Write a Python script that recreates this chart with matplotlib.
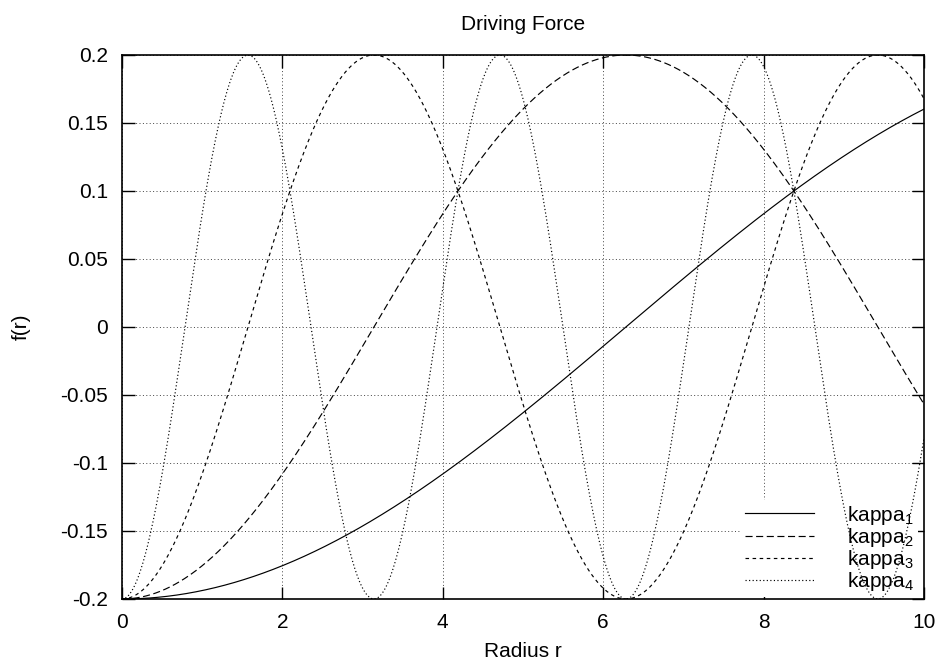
import numpy as np
import matplotlib
matplotlib.use("Agg")
import matplotlib.pyplot as plt

plt.rcParams['font.family'] = ['Liberation Sans', 'DejaVu Sans']
plt.rcParams['mathtext.fontset'] = 'custom'
plt.rcParams['mathtext.rm'] = 'Liberation Sans'
plt.rcParams['mathtext.it'] = 'Liberation Sans'
plt.rcParams['mathtext.default'] = 'regular'

# Driving force f(r) = -A cos(kappa r) for several wave numbers
amplitude = 0.2
kappas = [0.25, 0.5, 1.0, 2.0]
labels = ['kappa$_1$', 'kappa$_2$', 'kappa$_3$', 'kappa$_4$']
styles = ['-', (0, (6, 3)), (0, (3, 3)), (0, (1, 2))]
x_ticks = [0, 2, 4, 6, 8, 10]
y_ticks = [-0.2, -0.15, -0.1, -0.05, 0, 0.05, 0.1, 0.15, 0.2]
y_tick_labels = ['-0.2', '-0.15', '-0.1', '-0.05', '0', '0.05', '0.1', '0.15', '0.2']

r = np.linspace(0, 10, 1000)

fig = plt.figure(figsize=(9.42, 6.65), dpi=100)
ax = fig.add_axes([122 / 942, 1 - 599 / 665, (924 - 122) / 942, (599 - 55) / 665])

for k, lab, ls in zip(kappas, labels, styles):
    ax.plot(r, -amplitude * np.cos(k * r), color='black', lw=0.85, ls=ls,
            label=lab, zorder=3)

ax.set_xlim(0, 10)
ax.set_ylim(-0.2, 0.2)
ax.set_xticks(x_ticks)
ax.set_xticklabels([str(t) for t in x_ticks])
ax.set_yticks(y_ticks)
ax.set_yticklabels(y_tick_labels)
ax.tick_params(direction='in', length=9, width=1, top=True, right=True,
               labelsize=15, pad=10)
ax.set_axisbelow(True)
ax.grid(True, color='#444444', lw=0.7, ls=(0, (1, 2.5)))
for s in ax.spines.values():
    s.set_linewidth(1.2)

ax.set_title('Driving Force', fontsize=15, pad=18)
ax.set_xlabel('Radius r', fontsize=15, labelpad=7)
ax.set_ylabel('f(r)', fontsize=15, labelpad=21)

leg = ax.legend(loc='lower right', bbox_to_anchor=(0.993, 0.003), frameon=True,
                fontsize=15, handlelength=3.3, handletextpad=1.6,
                labelspacing=-0.04, borderpad=0.2, borderaxespad=0)
leg.get_frame().set_edgecolor('none')
leg.get_frame().set_facecolor('white')
leg.get_frame().set_alpha(1.0)
leg.set_zorder(2)

fig.savefig('out.png', dpi=100)
